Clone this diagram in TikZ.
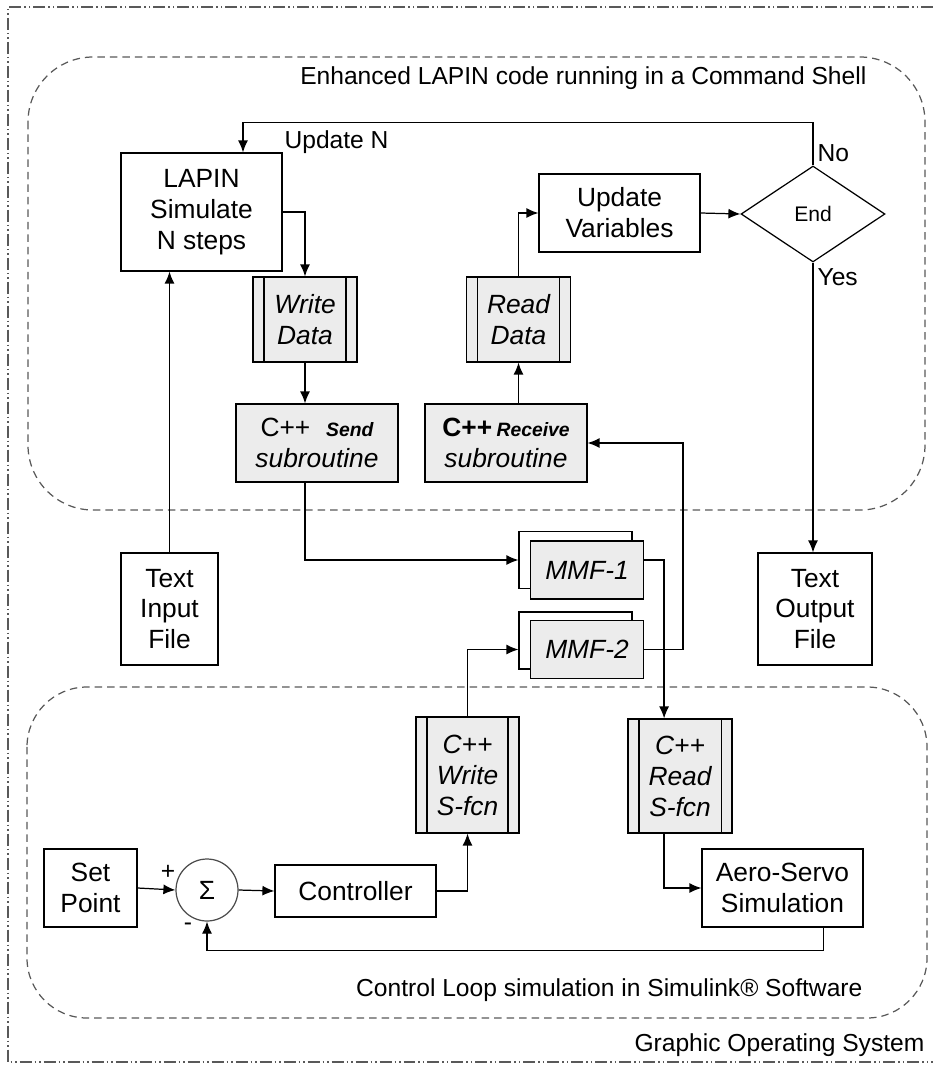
\documentclass[tikz,border=0pt]{standalone}
\usepackage{fontspec}
\setmainfont{Liberation Sans}
\usepackage{tikz}
\usetikzlibrary{arrows.meta, positioning, shapes.geometric}
\usepackage{xcolor}

\newcommand\blocktext{\fontsize{15}{17.6}\selectfont}
\newcommand\lbltext{\fontsize{14}{16}\selectfont}
\newcommand\smalltext{\fontsize{11}{12}\selectfont}

\begin{document}
\begin{tikzpicture}[
    x=0.02cm, y=-0.02cm,
    line width=0.7pt,
    every node/.style={align=center, inner sep=0pt},
    block/.style={draw, font=\blocktext},
    subproc/.style={block, fill=gray!15},
    lbl/.style={font=\lbltext},
    region/.style={draw=gray!70!black, dash pattern=on 0.15cm off 0.1cm},
    >={Latex[length=0.24cm, width=0.2cm]}
]
\useasboundingbox (0,0) rectangle (933,1065);

% operating system frame and the two shells
\draw[gray!70!black, line width=0.6pt, dash pattern=on 0.24cm off 0.06cm on 0.03cm off 0.06cm on 0.03cm off 0.06cm]
    (933,7) -- (8,7) -- (8,1062) -- (933,1062);
\draw[region, rounded corners=1.3cm] (28,57) rectangle (925,510);
\draw[region, rounded corners=1.2cm] (27,687) rectangle (927,1018);

\node[lbl, anchor=east] (shelltitle) at (867,78) {Enhanced LAPIN code running in a Command Shell};
\node[lbl, anchor=east] (looptitle) at (863,990) {Control Loop simulation in Simulink® Software};
\node[lbl, anchor=east] (ostitle) at (925,1045) {Graphic Operating System};

% LAPIN side
\node[block, minimum width=3.22cm, minimum height=2.36cm] (lapin) at (201.5,212) {LAPIN\\Simulate\\N steps};
\node[subproc, minimum width=2.08cm, minimum height=1.7cm] (writedata) at (305,319.5) {\itshape Write\\\itshape Data};
\node[subproc, minimum width=2.08cm, minimum height=1.7cm] (readdata) at (518.5,319.5) {\itshape Read\\\itshape Data};
\node[subproc, minimum width=3.24cm, minimum height=1.56cm] (send) at (317,443)
    {C++\hspace{0.6em}{\smalltext\bfseries\itshape Send}\\{\itshape subroutine}};
\node[subproc, minimum width=3.24cm, minimum height=1.56cm] (receive) at (506,443)
    {{\bfseries C++}\,{\smalltext\bfseries\itshape Receive}\\{\itshape subroutine}};
\node[block, minimum width=3.22cm, minimum height=1.56cm] (update) at (619.5,213) {Update\\Variables};
\node[draw, diamond, aspect=1.5, minimum width=2.88cm, minimum height=1.92cm, font=\fontsize{12}{14}\selectfont] (enddec) at (813,214) {End};

\node[lbl, anchor=west] (updatelbl) at (284,142) {Update N};
\node[lbl, anchor=west] (nolbl) at (817,153) {No};
\node[lbl, anchor=west] (yeslbl) at (817,277) {Yes};

% files and memory mapped files
\node[block, minimum width=1.94cm, minimum height=2.24cm] (infile) at (169.5,609) {Text\\Input\\File};
\node[block, minimum width=2.28cm, minimum height=2.24cm] (outfile) at (815,609) {Text\\Output\\File};

\node[draw, fill=white, minimum width=2.26cm, minimum height=1.14cm] (mmfoneback) at (575.5,560) {};
\node[subproc, minimum width=2.26cm, minimum height=1.16cm] (mmfone) at (587,570) {\itshape MMF-1};
\node[draw, fill=white, minimum width=2.26cm, minimum height=1.14cm] (mmftwoback) at (575.5,640.5) {};
\node[subproc, minimum width=2.26cm, minimum height=1.16cm] (mmftwo) at (587,649.5) {\itshape MMF-2};

% Simulink side
\node[subproc, minimum width=2.06cm, minimum height=2.32cm] (writesf) at (467.5,775) {\itshape C++\\\itshape Write\\\itshape S-fcn};
\node[subproc, minimum width=2.08cm, minimum height=2.28cm] (readsf) at (680,776) {\itshape C++\\\itshape Read\\\itshape S-fcn};
\node[block, minimum width=1.86cm, minimum height=1.56cm] (setpoint) at (90.5,888) {Set\\Point};
\node[draw=gray!60!black, circle, minimum size=1.24cm, font=\blocktext] (sum) at (207,890) {Σ};
\node[block, minimum width=3.22cm, minimum height=1.04cm] (controller) at (355.5,891) {Controller};
\node[block, minimum width=3.22cm, minimum height=1.56cm] (aero) at (782.5,888) {Aero-Servo\\Simulation};
\node[lbl] (plus) at (168,872) {+};
\node[lbl] (minus) at (188,927) {-};

\foreach \n in {writedata, readdata, writesf, readsf} {
    \draw ([xshift=0.23cm]\n.north west) -- ([xshift=0.23cm]\n.south west);
    \draw ([xshift=-0.23cm]\n.north east) -- ([xshift=-0.23cm]\n.south east);
}

% connectors
\draw[->] (enddec.north) -- ++(0,-43) -| ([xshift=0.83cm]lapin.north);
\draw[->] (lapin.east) -| (writedata.north);
\draw[->] (writedata.south) -- (writedata.south |- send.north);
\draw[->] (writedata.south |- send.south) |- (mmfoneback.west);
\draw[->] (readdata.south |- receive.north) -- (readdata.south);
\draw[->] (readdata.north) |- (update.west);
\draw[->] (update.east) -- (enddec.west);
\draw[->] (enddec.south) -- (enddec.south |- outfile.north);
\draw[->] (infile.north) -- (infile.north |- lapin.south);

\draw[->] (mmfone.east |- mmfoneback.east) -- ++(20,0) coordinate (tap) -- (tap |- readsf.north);
\draw[->] (mmftwo.east) -- ++(39,0) |- (receive.east);
\draw[->] (writesf.north) |- (mmftwoback.west |- mmftwo.west);
\draw[->] (tap |- readsf.south) |- (aero.west);

\draw[->] (setpoint.east) -- (sum.west);
\draw[->] (sum.east) -- (controller.west);
\draw[->] (controller.east) -| (writesf.south);
\draw[->] ([xshift=0.82cm]aero.south) -- ++(0,23) -| (sum.south);

\end{tikzpicture}
\end{document}
